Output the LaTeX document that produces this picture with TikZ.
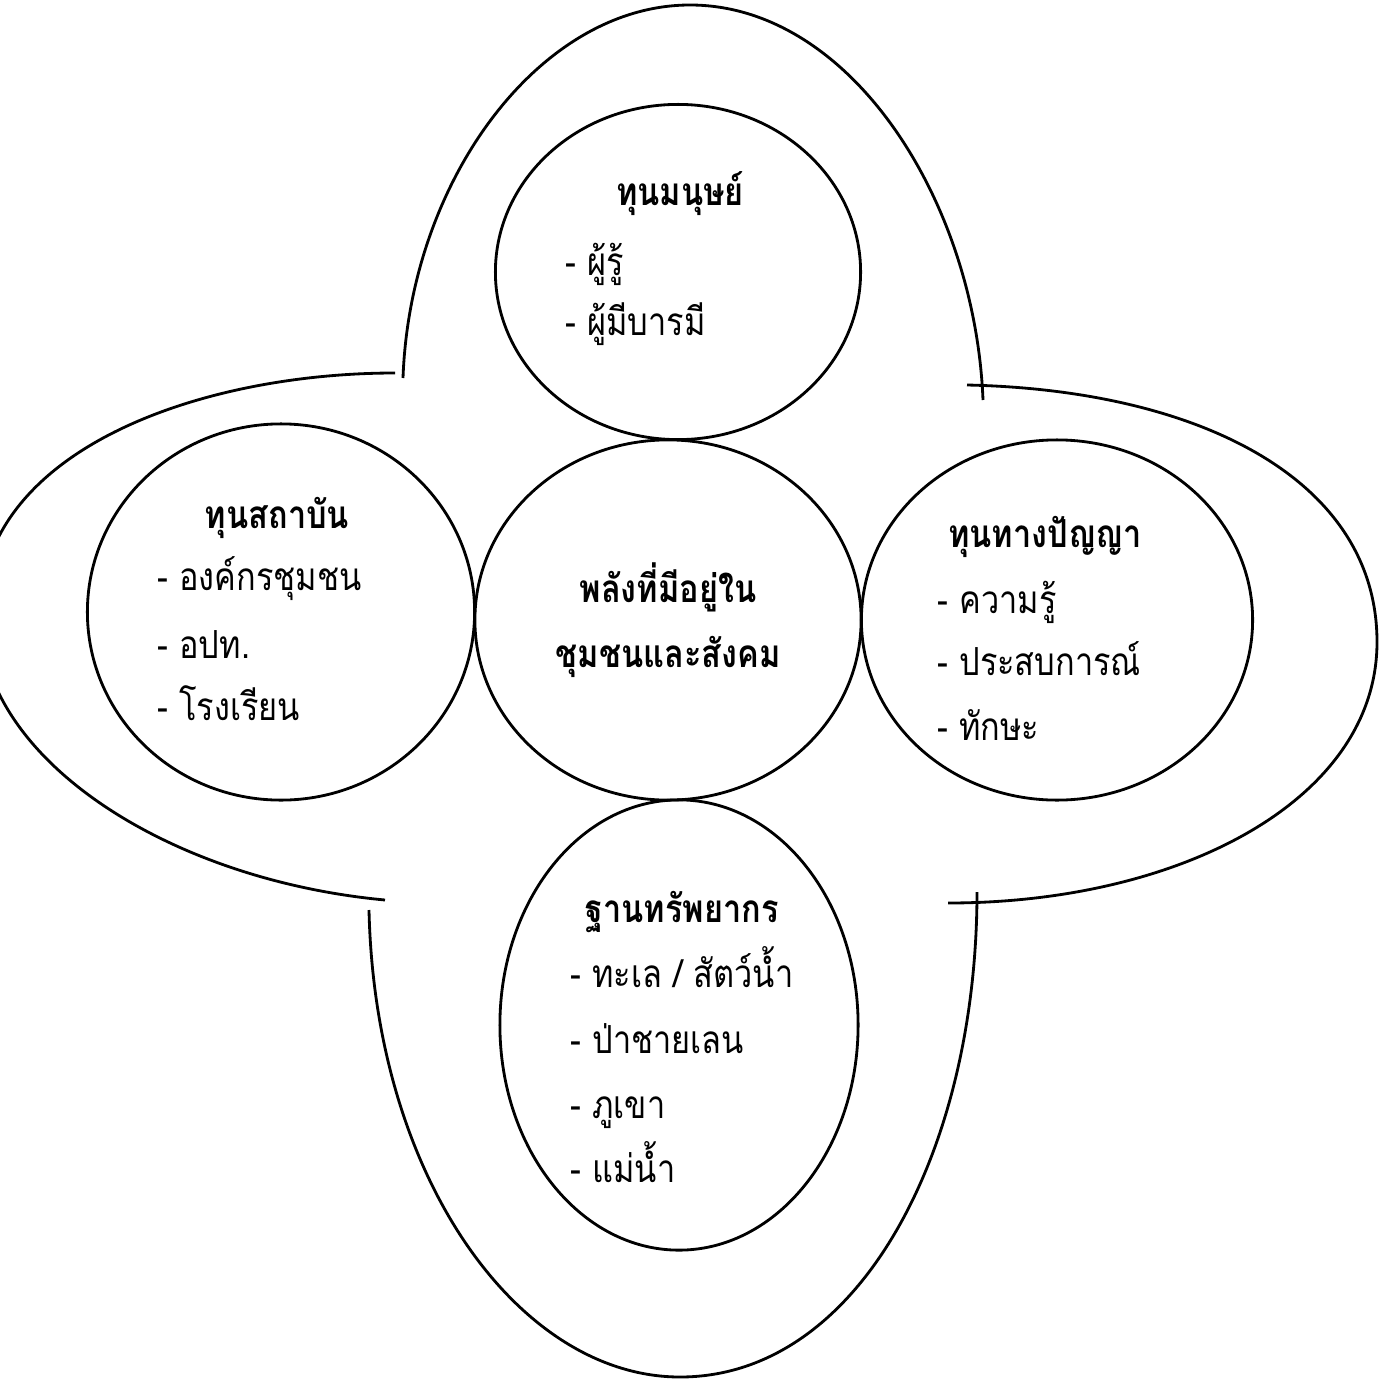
\documentclass[tikz,border=0pt]{standalone}
\usepackage{fontspec}
\newfontfamily\thaifont[Script=Thai, FakeStretch=0.84]{Loma}
\usetikzlibrary{shapes.geometric}

\begin{document}
\begin{tikzpicture}[
  x=0.01cm,
  y=-0.01cm,
  capital/.style={draw=black, line width=0.8pt, ellipse, inner sep=0pt},
  lobe/.style={draw=black, line width=0.8pt},
  heading/.style={font=\thaifont\bfseries\fontsize{11}{13}\selectfont, text height=2.2ex, text depth=0.8ex, inner sep=0pt},
  entry/.style={font=\thaifont\fontsize{11}{13}\selectfont, anchor=west, text height=2.2ex, text depth=0.8ex, inner sep=0pt}
]
\useasboundingbox (0,0) rectangle (1379,1379);

% outer lobes
\draw[lobe] (403,378) .. controls (410,180) and (540,5) .. (690,5)
  .. controls (850,5) and (975,200) .. (983,400);
\draw[lobe] (395,373) .. controls (200,373) and (-20,450) .. (-20,615)
  .. controls (-20,760) and (170,880) .. (385,900);
\draw[lobe] (967,385) .. controls (1200,390) and (1377,480) .. (1377,642)
  .. controls (1377,800) and (1180,903) .. (948,903);
\draw[lobe] (369,910) .. controls (375,1180) and (520,1377) .. (680,1377)
  .. controls (860,1377) and (977,1150) .. (977,892);

% circles
\node[capital, minimum width=3.86cm, minimum height=3.6cm] (core) at (668,620) {};
\node[capital, minimum width=3.65cm, minimum height=3.35cm] (human) at (678,272) {};
\node[capital, minimum width=3.87cm, minimum height=3.76cm] (social) at (281,612) {};
\node[capital, minimum width=3.91cm, minimum height=3.6cm] (wisdom) at (1057,620) {};
\node[capital, minimum width=3.58cm, minimum height=4.5cm] (resource) at (679,1025) {};

% texts
\node[heading] (coreA) at (668,592) {พลังที่มีอยู่ใน};
\node[heading] (coreB) at (668,657) {ชุมชนและสังคม};

\node[heading] (humanT) at (680,195) {ทุนมนุษย์};
\node[entry] (human1) at (565,265) {- ผู้รู้};
\node[entry] (human2) at (565,325) {- ผู้มีบารมี};

\node[heading] (socialT) at (277,518) {ทุนสถาบัน};
\node[entry] (social1) at (157,580) {- องค์กรชุมชน};
\node[entry] (social2) at (157,648) {- อปท.};
\node[entry] (social3) at (157,710) {- โรงเรียน};

\node[heading] (wisdomT) at (1045,537) {ทุนทางปัญญา};
\node[entry] (wisdom1) at (937,603) {- ความรู้};
\node[entry] (wisdom2) at (937,665) {- ประสบการณ์};
\node[entry] (wisdom3) at (937,730) {- ทักษะ};

\node[heading] (resourceT) at (682,912) {ฐานทรัพยากร};
\node[entry] (resource1) at (570,977) {- ทะเล / สัตว์น้ำ};
\node[entry] (resource2) at (570,1043) {- ป่าชายเลน};
\node[entry] (resource3) at (570,1108) {- ภูเขา};
\node[entry] (resource4) at (570,1172) {- แม่น้ำ};
\end{tikzpicture}
\end{document}
